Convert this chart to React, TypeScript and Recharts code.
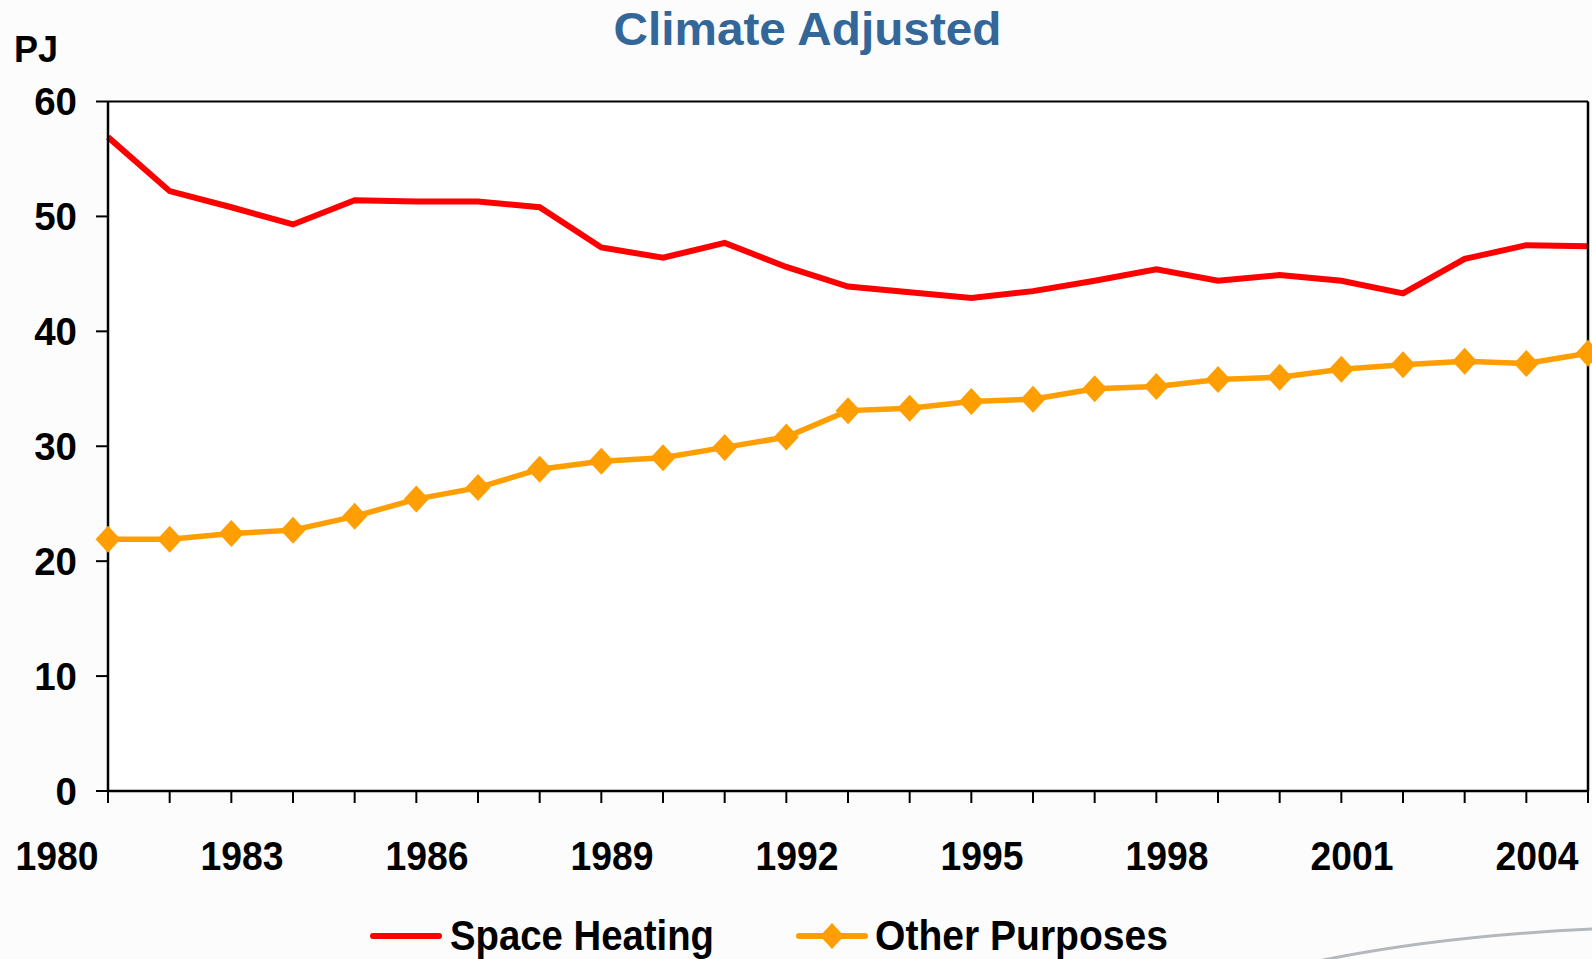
import React from 'react';
import { LineChart, Line, XAxis, YAxis, CartesianGrid, Legend } from 'recharts';

const years = [1980, 1981, 1982, 1983, 1984, 1985, 1986, 1987, 1988, 1989, 1990, 1991, 1992, 1993, 1994, 1995, 1996, 1997, 1998, 1999, 2000, 2001, 2002, 2003, 2004];
const spaceHeating = [56.9, 52.2, 50.8, 49.3, 51.4, 51.3, 51.3, 50.8, 47.3, 46.4, 47.7, 45.6, 43.9, 43.4, 42.9, 43.5, 44.4, 45.4, 44.4, 44.9, 44.4, 43.3, 46.3, 47.5, 47.4];
const otherPurposes = [21.9, 21.9, 22.4, 22.7, 23.9, 25.4, 26.4, 28.0, 28.7, 29.0, 29.9, 30.8, 33.1, 33.3, 33.9, 34.1, 35.0, 35.2, 35.8, 36.0, 36.7, 37.1, 37.4, 37.2, 38.1];
const yTicks = [0, 10, 20, 30, 40, 50, 60];
const labelYears = [1980, 1983, 1986, 1989, 1992, 1995, 1998, 2001, 2004];

const RED = '#FF0000';
const ORANGE = '#FF9E00';
const FONT = '"Liberation Sans", Arial, sans-serif';

const data = years.map((y, i) => ({ year: y, space: spaceHeating[i], other: otherPurposes[i] }));

const XTick = (props: any) => {
  const { x, y, payload } = props;
  if (!labelYears.includes(payload.value)) return <g />;
  return (
    <text
      x={x - 51}
      y={y}
      dy={67}
      textAnchor="middle"
      fontFamily={FONT}
      fontWeight="bold"
      fontSize={40}
      fill="#000"
      textLength={83}
      lengthAdjust="spacingAndGlyphs"
    >
      {payload.value}
    </text>
  );
};

const Diamond = (props: any) => {
  const { cx, cy } = props;
  if (cx == null || cy == null) return <g />;
  return (
    <polygon
      points={`${cx},${cy - 13.5} ${cx + 12.5},${cy} ${cx},${cy + 13.5} ${cx - 12.5},${cy}`}
      fill={ORANGE}
      stroke="none"
    />
  );
};

const LegendContent = () => (
  <svg width={1592} height={50} style={{ display: 'block' }}>
    <line x1={373} x2={439} y1={25} y2={25} stroke={RED} strokeWidth={6} strokeLinecap="round" />
    <text x={450} y={39} fontFamily={FONT} fontWeight="bold" fontSize={42} fill="#000" textLength={264} lengthAdjust="spacingAndGlyphs">
      Space Heating
    </text>
    <line x1={799} x2={865} y1={25} y2={25} stroke={ORANGE} strokeWidth={6} strokeLinecap="round" />
    <polygon points="832,12 844,25 832,38 820,25" fill={ORANGE} />
    <text x={875} y={39} fontFamily={FONT} fontWeight="bold" fontSize={42} fill="#000" textLength={293} lengthAdjust="spacingAndGlyphs">
      Other Purposes
    </text>
  </svg>
);

export default function App() {
  return (
    <div style={{ position: 'absolute', left: 0, top: 0, width: 1592, height: 959, background: '#fcfcfc', overflow: 'hidden' }}>
      <LineChart
        width={1592}
        height={959}
        data={data}
        margin={{ top: 101.5, right: 0, bottom: 88, left: 0 }}
      >
        <CartesianGrid vertical={false} stroke="#000" strokeWidth={2} fill="#ffffff" fillOpacity={1} />
        <XAxis
          dataKey="year"
          type="category"
          interval={0}
          height={80}
          tickSize={12}
          tickMargin={0}
          tick={<XTick />}
          axisLine={{ stroke: '#000', strokeWidth: 2.5 }}
          tickLine={{ stroke: '#000', strokeWidth: 2 }}
        />
        <YAxis
          yAxisId="left"
          domain={[0, 60]}
          ticks={yTicks}
          interval={0}
          width={108}
          tickSize={12}
          tickMargin={19}
          axisLine={{ stroke: '#000', strokeWidth: 2.5 }}
          tickLine={{ stroke: '#000', strokeWidth: 2 }}
          tick={{ fill: '#000', fontFamily: FONT, fontWeight: 'bold', fontSize: 38.5 }}
        />
        <YAxis
          yAxisId="right"
          orientation="right"
          domain={[0, 60]}
          width={4}
          tick={false}
          tickLine={false}
          axisLine={{ stroke: '#000', strokeWidth: 2.5 }}
        />
        <Legend
          layout="horizontal"
          verticalAlign="middle"
          align="center"
          wrapperStyle={{ top: 911, left: 0, width: 1592, height: 50 }}
          content={<LegendContent />}
        />
        <Line
          yAxisId="left"
          type="linear"
          dataKey="space"
          name="Space Heating"
          stroke={RED}
          strokeWidth={6}
          dot={false}
          activeDot={false}
          isAnimationActive={false}
        />
        <Line
          yAxisId="left"
          type="linear"
          dataKey="other"
          name="Other Purposes"
          stroke={ORANGE}
          strokeWidth={5.5}
          dot={<Diamond />}
          activeDot={false}
          isAnimationActive={false}
        />
      </LineChart>
      <svg
        width={1592}
        height={959}
        style={{ position: 'absolute', left: 0, top: 0, pointerEvents: 'none' }}
      >
        <text x={807.5} y={45} textAnchor="middle" fontFamily={FONT} fontWeight="bold" fontSize={46} fill="#336699" textLength={388} lengthAdjust="spacingAndGlyphs">
          Climate Adjusted
        </text>
        <text x={14} y={62} fontFamily={FONT} fontWeight="bold" fontSize={36} fill="#000">
          PJ
        </text>
        <path d="M1318 961 Q1440 936 1592 929" stroke="#b4b8bc" strokeWidth={3} fill="none" />
      </svg>
    </div>
  );
}
